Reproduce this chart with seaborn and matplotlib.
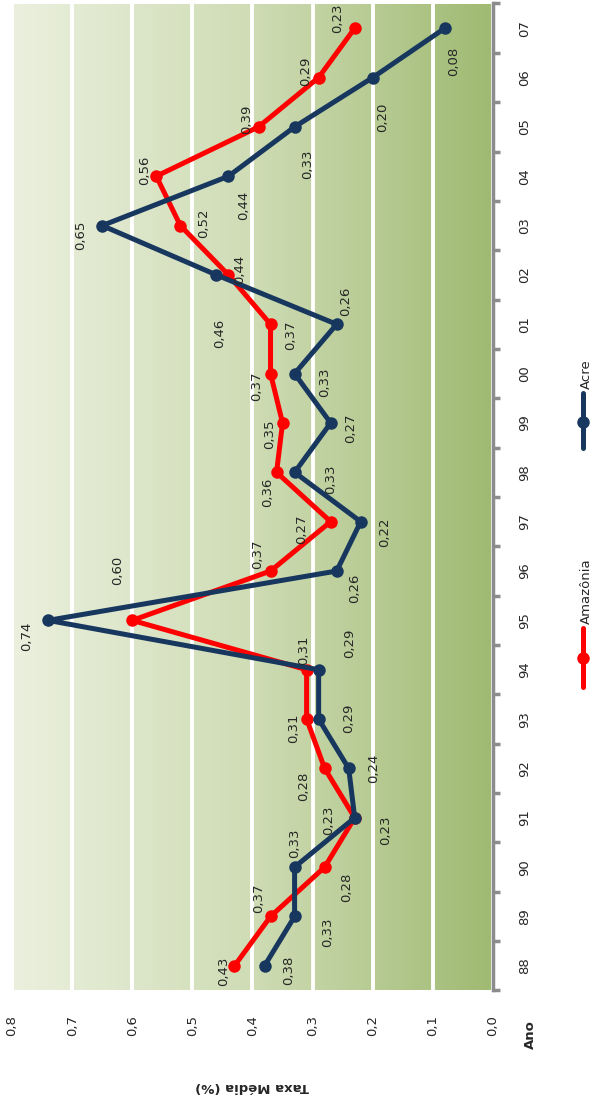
import numpy as np
import pandas as pd
import seaborn as sns
import matplotlib
matplotlib.use("Agg")
import matplotlib.pyplot as plt
from matplotlib.colors import LinearSegmentedColormap
from matplotlib.lines import Line2D

# -------------------------------------------------
# dados (taxa média por ano)
# -------------------------------------------------
anos = ["88", "89", "90", "91", "92", "93", "94", "95", "96", "97",
        "98", "99", "00", "01", "02", "03", "04", "05", "06", "07"]
amazonia = [0.43, 0.37, 0.28, 0.23, 0.28, 0.31, 0.31, 0.60, 0.37, 0.27,
            0.36, 0.35, 0.37, 0.37, 0.44, 0.52, 0.56, 0.39, 0.29, 0.23]
acre = [0.38, 0.33, 0.33, 0.23, 0.24, 0.29, 0.29, 0.74, 0.26, 0.22,
        0.33, 0.27, 0.33, 0.26, 0.46, 0.65, 0.44, 0.33, 0.20, 0.08]
xticks = [0.0, 0.1, 0.2, 0.3, 0.4, 0.5, 0.6, 0.7, 0.8]

# deslocamento dos rótulos (pixels, dx e dy para baixo)
off_amz = [(-11, 5), (-12, -18), (22, 20), (-26, 2), (-21, 18), (-13, 9), (-3, -19),
           (-15, -50), (-13, -17), (-29, 8), (-9, 20), (-13, 11), (-14, 13), (20, 11),
           (11, -6), (23, -2), (-12, -6), (-12, -8), (-13, -6), (-17, -10)]
off_acre = [(24, 4), (33, 16), (0, -24), (31, 12), (25, 0), (30, -1), (31, -26),
            (-21, 16), (18, 17), (24, 11), (36, 7), (20, 5), (30, 9), (9, -23),
            (3, 58), (-22, 10), (15, 29), (13, 37), (10, 40), (9, 33)]

RED = "#ff0000"
NAVY = "#17375e"
GRAY = "#8c8c8c"

pos = np.arange(len(anos))
df = pd.DataFrame({
    "taxa": amazonia + acre,
    "pos": list(pos) + list(pos),
    "serie": ["Amazônia"] * len(anos) + ["Acre"] * len(anos),
})

# -------------------------------------------------
# estilo
# -------------------------------------------------
sns.set_style("white")
plt.rcParams["font.family"] = ["DejaVu Sans"]

fig = plt.figure(figsize=(5.97, 11.04), dpi=100)
ax = fig.add_axes([12 / 597, 1 - 990.5 / 1104, 481 / 597, 987 / 1104])

# fundo em degradê
cmap = LinearSegmentedColormap.from_list("verde", ["#ebf0de", "#cfdcb5", "#9fba72"])
ax.imshow(np.linspace(0, 1, 256).reshape(1, -1), extent=[0.8, 0.0, -0.5, 19.5],
          aspect="auto", cmap=cmap, zorder=0)

sns.lineplot(data=df, x="taxa", y="pos", hue="serie", orient="y", estimator=None,
             errorbar=None, palette={"Amazônia": RED, "Acre": NAVY},
             hue_order=["Amazônia", "Acre"], marker="o", markersize=9,
             markeredgewidth=0, linewidth=3.6, legend=False, ax=ax)

# rótulos de valor
for vals, offs in [(amazonia, off_amz), (acre, off_acre)]:
    for i, v in enumerate(vals):
        ax.annotate(f"{v:.2f}".replace(".", ","), (v, pos[i]),
                    xytext=(offs[i][0], -offs[i][1]), textcoords="offset pixels",
                    rotation=90, ha="center", va="center", fontsize=9.5,
                    color="#262626", zorder=5)

# eixos
ax.set_xlim(0.8, 0.0)
ax.set_ylim(-0.5, 19.5)
ax.set_xticks(xticks)
ax.set_xticklabels([f"{t:.1f}".replace(".", ",") for t in xticks],
                   rotation=90, fontsize=9.5, color="#262626")
ax.tick_params(axis="x", length=0, pad=18)
ax.grid(axis="x", color="white", linewidth=2.8)
ax.grid(axis="y", visible=False)
ax.set_axisbelow(True)

ax.yaxis.tick_right()
ax.set_yticks(pos)
ax.set_yticklabels(anos, rotation=90, fontsize=9.5, color="#262626", va="center")
ax.set_yticks(np.arange(-0.5, 20, 1), minor=True)
ax.tick_params(axis="y", which="major", length=0, pad=18)
ax.tick_params(axis="y", which="minor", length=5, width=2.5, color=GRAY, direction="out")
ax.set_xlabel("")
ax.set_ylabel("")

for s in ["left", "top", "bottom"]:
    ax.spines[s].set_visible(False)
ax.spines["right"].set_color(GRAY)
ax.spines["right"].set_linewidth(2.5)

# títulos
fig.text(252 / 597, 1 - 1086 / 1104, "Taxa Média (%)", rotation=180, ha="center",
         va="center", fontsize=9.5, fontweight="bold")
fig.text(530 / 597, 1 - 1035 / 1104, "Ano", rotation=90, ha="center",
         va="center", fontsize=9.5, fontweight="bold")

# legenda manual (vertical)
for nome, cor, y0, y1, ym in [("Amazônia", RED, 628, 687, 658), ("Acre", NAVY, 393, 448, 422)]:
    fig.add_artist(Line2D([583 / 597, 583 / 597], [1 - y0 / 1104, 1 - y1 / 1104],
                          color=cor, linewidth=3.6, transform=fig.transFigure))
    fig.add_artist(Line2D([583 / 597], [1 - ym / 1104], color=cor, marker="o",
                          markersize=9, markeredgewidth=0, transform=fig.transFigure))
    fig.text(586 / 597, 1 - (y0 - 4) / 1104, nome, rotation=90, ha="center",
             va="bottom", fontsize=9.5, color="#262626")

fig.savefig("out.png", dpi=100)
